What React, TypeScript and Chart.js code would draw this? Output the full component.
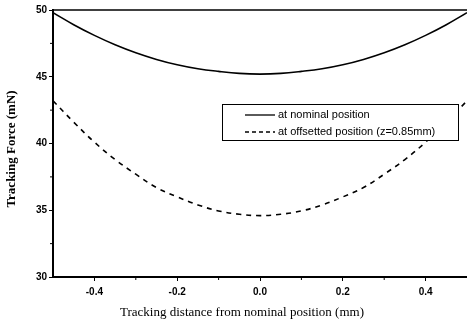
import React, { useEffect, useRef } from "react";
import { Chart, registerables } from "chart.js";

Chart.register(...registerables);

const xValues = [-0.5, -0.45, -0.4, -0.35, -0.3, -0.25, -0.2, -0.15, -0.1, -0.05, 0, 0.05, 0.1, 0.15, 0.2, 0.25, 0.3, 0.35, 0.4, 0.45, 0.5];
const nominal = [49.8, 48.9, 48.1, 47.4, 46.8, 46.3, 45.9, 45.6, 45.4, 45.25, 45.2, 45.25, 45.4, 45.6, 45.9, 46.3, 46.8, 47.4, 48.1, 48.9, 49.8];
const offsetted = [43.2, 41.6, 40.1, 38.8, 37.7, 36.7, 36.0, 35.4, 34.95, 34.7, 34.6, 34.7, 34.95, 35.4, 36.0, 36.7, 37.7, 38.8, 40.1, 41.6, 43.2];
const seriesLabels = ["at nominal position", "at offsetted position (z=0.85mm)"];
const xTitle = "Tracking distance from nominal position (mm)";
const yTitle = "Tracking Force (mN)";
const xTicks = [-0.4, -0.2, 0.0, 0.2, 0.4];
const xMinorTicks = [-0.3, -0.1, 0.1, 0.3];
const yTicks = [30, 35, 40, 45, 50];
const yMinorTicks = [32.5, 37.5, 42.5, 47.5];

const framePlugin = {
  id: "frame",
  afterDraw(chart: any) {
    const { ctx, chartArea } = chart;
    const xs = chart.scales.x;
    const ys = chart.scales.y;
    ctx.save();
    ctx.strokeStyle = "#000";
    ctx.lineWidth = 1.5;
    // top border
    ctx.beginPath();
    ctx.moveTo(chartArea.left, chartArea.top);
    ctx.lineTo(chartArea.right, chartArea.top);
    ctx.stroke();
    // minor ticks
    ctx.lineWidth = 1;
    xMinorTicks.forEach((v) => {
      const px = xs.getPixelForValue(v);
      ctx.beginPath();
      ctx.moveTo(px, chartArea.bottom);
      ctx.lineTo(px, chartArea.bottom + 3);
      ctx.stroke();
    });
    yMinorTicks.forEach((v) => {
      const py = ys.getPixelForValue(v);
      ctx.beginPath();
      ctx.moveTo(chartArea.left, py);
      ctx.lineTo(chartArea.left - 3, py);
      ctx.stroke();
    });
    // axis titles
    ctx.fillStyle = "#000";
    ctx.textAlign = "center";
    ctx.textBaseline = "middle";
    ctx.font = "13px 'Liberation Serif', 'Times New Roman', serif";
    ctx.fillText(xTitle, 242, 313);
    ctx.save();
    ctx.translate(12, 149);
    ctx.rotate(-Math.PI / 2);
    ctx.font = "bold 13px 'Liberation Serif', 'Times New Roman', serif";
    ctx.fillText(yTitle, 0, 0);
    ctx.restore();
    // legend
    const bx = 222, by = 104, bw = 236, bh = 36;
    ctx.fillStyle = "#fff";
    ctx.fillRect(bx, by, bw, bh);
    ctx.lineWidth = 1;
    ctx.strokeRect(bx + 0.5, by + 0.5, bw, bh);
    const rows = [by + 11, by + 28];
    ctx.font = "11px 'Liberation Sans', Arial, sans-serif";
    ctx.textAlign = "left";
    ctx.textBaseline = "middle";
    ctx.fillStyle = "#000";
    rows.forEach((ry, i) => {
      ctx.beginPath();
      ctx.lineWidth = 1.3;
      ctx.setLineDash(i === 0 ? [] : [4, 3]);
      ctx.moveTo(bx + 23, ry);
      ctx.lineTo(bx + 53, ry);
      ctx.stroke();
      ctx.setLineDash([]);
      ctx.fillText(seriesLabels[i], bx + 56, ry);
    });
    ctx.restore();
  },
};

export default function App() {
  const ref = useRef<HTMLCanvasElement | null>(null);
  useEffect(() => {
    document.body.style.margin = "0";
    const tickFont = { family: "'Liberation Sans', Arial, sans-serif", size: 10, weight: "bold" as const };
    const chart = new Chart(ref.current as HTMLCanvasElement, {
      type: "line",
      data: {
        datasets: [
          {
            label: seriesLabels[0],
            data: xValues.map((x, i) => ({ x, y: nominal[i] })),
            borderColor: "#000",
            borderWidth: 1.6,
            pointRadius: 0,
            tension: 0.4,
            fill: false,
          },
          {
            label: seriesLabels[1],
            data: xValues.map((x, i) => ({ x, y: offsetted[i] })),
            borderColor: "#000",
            borderWidth: 1.6,
            borderDash: [5, 5],
            pointRadius: 0,
            tension: 0.4,
            fill: false,
          },
        ],
      },
      options: {
        responsive: false,
        animation: false,
        layout: { padding: { left: 0, right: 0, top: 10, bottom: 0 } },
        plugins: { legend: { display: false }, tooltip: { enabled: false } },
        scales: {
          x: {
            type: "linear",
            min: -0.5,
            max: 0.5,
            afterBuildTicks: (s: any) => {
              s.ticks = xTicks.map((v) => ({ value: v }));
            },
            afterFit: (s: any) => {
              s.height = 48;
            },
            ticks: {
              color: "#000",
              font: tickFont,
              padding: 5,
              maxRotation: 0,
              callback: (v: any) => Number(v).toFixed(1),
            },
            grid: { display: true, drawOnChartArea: false, drawTicks: true, tickLength: 4, color: "#000", lineWidth: 1 },
            border: { display: true, color: "#000", width: 2 },
          },
          y: {
            type: "linear",
            min: 30,
            max: 50,
            afterBuildTicks: (s: any) => {
              s.ticks = yTicks.map((v) => ({ value: v }));
            },
            afterFit: (s: any) => {
              s.width = 53;
            },
            ticks: { color: "#000", font: tickFont, padding: 2 },
            grid: { display: true, drawOnChartArea: false, drawTicks: true, tickLength: 4, color: "#000", lineWidth: 1 },
            border: { display: true, color: "#000", width: 2 },
          },
        },
      },
      plugins: [framePlugin],
    });
    return () => chart.destroy();
  }, []);
  return (
    <div style={{ position: "absolute", left: 0, top: 0, width: 467, height: 325, background: "#fff" }}>
      <canvas ref={ref} width={467} height={325} style={{ width: 467, height: 325 }} />
    </div>
  );
}
